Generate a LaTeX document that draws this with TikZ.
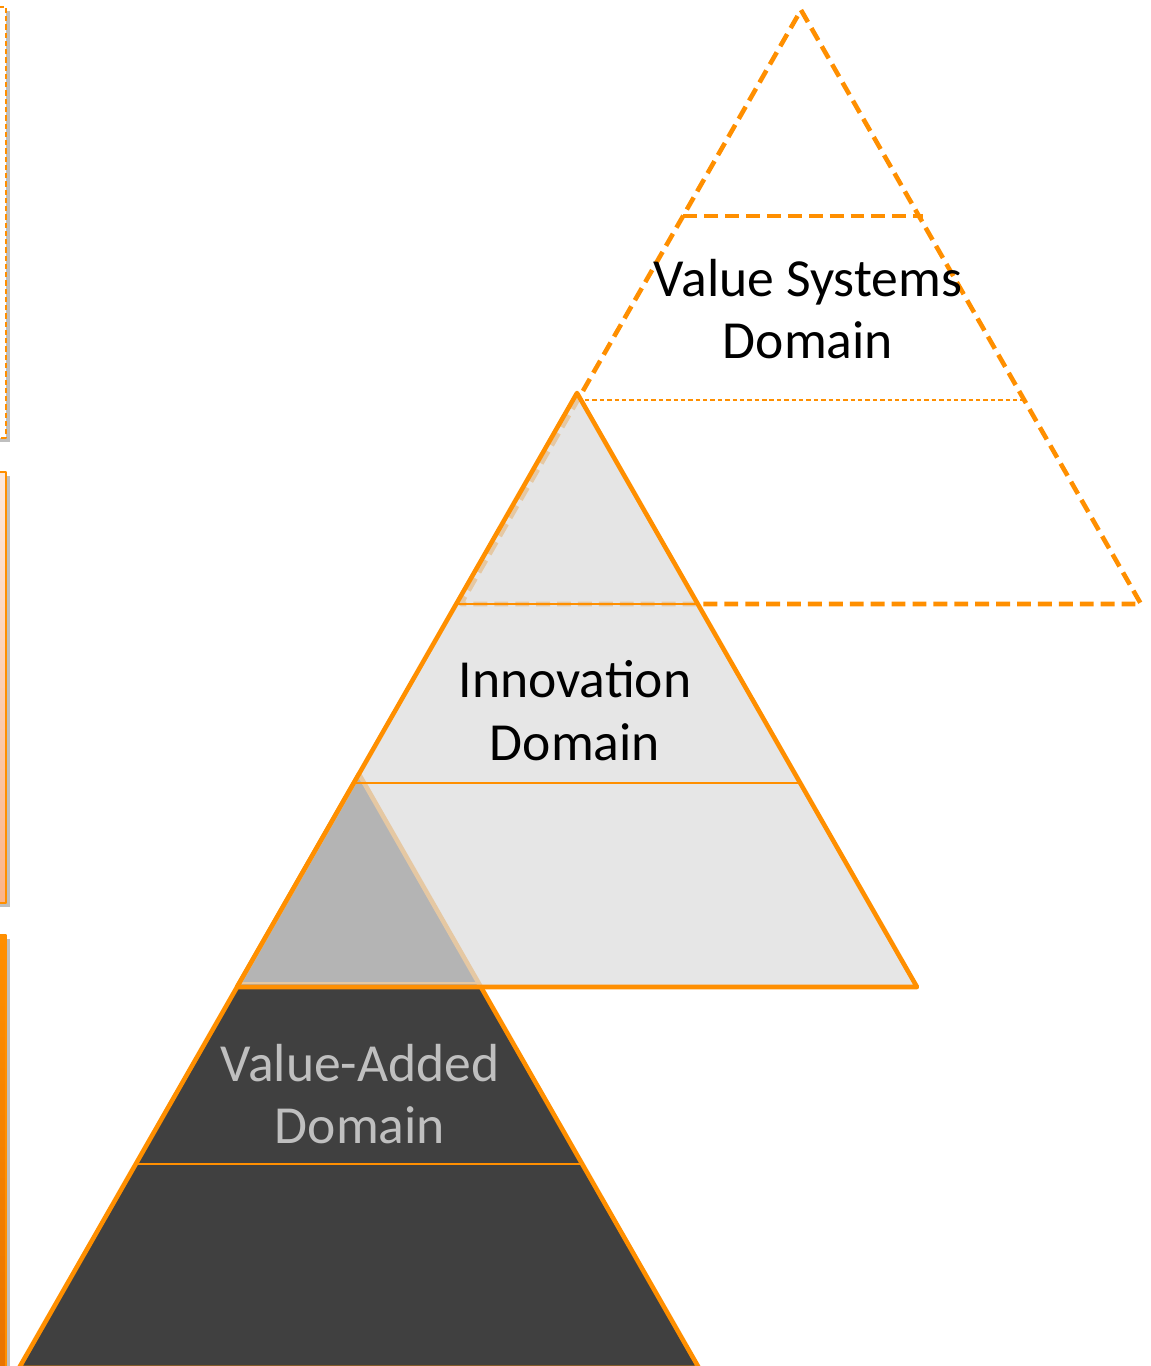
\documentclass[tikz,border=0pt]{standalone}
\usepackage{fontspec}
\setmainfont{Carlito}
\usetikzlibrary{shadows}
\definecolor{emph1}{RGB}{255,143,0}
\definecolor{emph2}{RGB}{64,64,64}
\definecolor{emph3}{RGB}{221,221,221}
\definecolor{emph4}{RGB}{191,191,191}
\definecolor{emph5}{RGB}{253,233,221}
\definecolor{emph6}{RGB}{252,180,136}
\definecolor{emph7}{RGB}{230,112,0}

\begin{document}
\begin{tikzpicture}[x=0.02cm, y=-0.02cm, line join=round,
    every node/.style={font=\fontsize{30.5}{35.7}\selectfont, align=center}]
        \def\hx{340};
        \def\hy{594};
        \def\fa{0.352};
        \def\fb{0.657};
  \useasboundingbox (0,0) rectangle (1151,1366);
  \clip (0,0) rectangle (1151,1366);
        %left boxes
        \draw[emph1, line width=1.1pt, dash pattern=on 3pt off 1.7pt, fill=white, drop shadow] (-30,7) rectangle (6,438);
        \draw[emph1, line width=1.1pt, top color=emph5, bottom color=emph6, drop shadow] (-30,472) rectangle (6,903);
        \draw[emph1, line width=1.1pt, top color=emph1, bottom color=emph7, drop shadow] (-30,935) rectangle (6,1420);
        %top dashed
        \begin{scope}[shift={(801,10)}]
          \draw[emph1, line width=2.6pt, dash pattern=on 7.9pt off 4pt, fill=white] (0,0)
          --++(\hx,\hy)
          --++(-2*\hx,0)
          --cycle;
          \draw[emph1, line width=2.6pt, dash pattern=on 7.9pt off 4pt] (-\fa*\hx+2,\fa*\hy-3)
          --++(2*\fa*\hx,0);
          \draw[emph1, line width=0.9pt, dash pattern=on 2.5pt off 1.7pt] (-\fb*\hx,\fb*\hy)
          --++(2*\fb*\hx,0);
        \end{scope}
        %bottom dark
        \begin{scope}[shift={(359,774)}]
          \draw[emph1, line width=2.6pt, fill=emph2] (0,0)
          --++(\hx,\hy)
          --++(-2*\hx,0)
          --cycle;
          \draw[emph1, line width=1.1pt] (-\fa*\hx,\fa*\hy)
          --++(2*\fa*\hx,0);
          \draw[emph1, line width=1.1pt] (-\fb*\hx,\fb*\hy)
          --++(2*\fb*\hx,0);
        \end{scope}
        %middle grey, see-through
        \begin{scope}[shift={(577,393)}]
          \draw[emph1, line width=2.6pt, fill=emph3, fill opacity=0.74] (0,0)
          --++(\hx,\hy)
          --++(-2*\hx,0)
          --cycle;
          \draw[emph1, line width=1.4pt] (-\fa*\hx,\fa*\hy+2)
          --++(2*\fa*\hx,0);
          \draw[emph1, line width=1.1pt] (-\fb*\hx,\fb*\hy)
          --++(2*\fb*\hx,0);
        \end{scope}

        \node (valsys) at (808,309) {Value Systems\\Domain};
        \node (innov) at (575,711) {Innovation\\Domain};
        \node[text=emph4] (valadd) at (360,1094) {Value-Added\\Domain};
      \end{tikzpicture}
\end{document}
